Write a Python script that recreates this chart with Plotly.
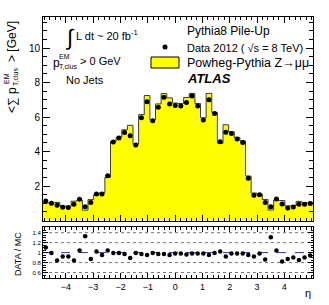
import numpy as np
import plotly.graph_objects as go

# ---------------- data ----------------
eta_min, eta_max = -4.84, 5.05
n_bins = 48

data_vals = [1.13, 1.00, 0.88, 0.77, 0.75, 0.94, 1.23, 0.80, 1.05, 1.53, 1.53, 2.60,
             4.55, 4.78, 5.10, 4.91, 4.38, 5.96, 6.89, 5.78, 6.56, 7.14, 6.75, 6.67,
             6.64, 6.84, 7.22, 6.64, 5.83, 7.00, 6.21, 4.57, 5.11, 5.05, 4.72, 4.53,
             2.45, 1.46, 1.50, 1.05, 0.80, 1.24, 0.95, 0.73, 0.78, 0.94, 0.94, 0.98]

mc_vals = [1.03, 1.01, 1.05, 0.84, 0.82, 1.12, 1.18, 0.60, 1.21, 1.50, 1.61, 2.50,
           4.60, 4.83, 5.26, 5.52, 4.42, 6.14, 7.25, 5.84, 6.76, 7.36, 7.11, 6.81,
           6.78, 7.13, 7.37, 6.78, 5.95, 7.37, 6.27, 4.48, 5.55, 5.15, 4.82, 4.62,
           2.58, 1.59, 1.53, 1.22, 0.61, 1.19, 1.16, 0.84, 0.87, 1.11, 1.04, 1.04]

ratio_vals = [1.10, 0.99, 0.84, 0.92, 0.92, 0.84, 1.04, 1.33, 0.87, 1.02, 0.95, 1.04,
              0.99, 0.99, 0.97, 0.89, 0.99, 0.97, 0.95, 0.99, 0.97, 0.97, 0.95, 0.98,
              0.98, 0.96, 0.98, 0.98, 0.98, 0.95, 0.99, 1.02, 0.92, 0.98, 0.98, 0.98,
              0.95, 0.92, 0.98, 0.86, 1.31, 1.04, 0.82, 0.87, 0.90, 0.85, 0.90, 0.94]

x_tick_vals = [-4, -3, -2, -1, 0, 1, 2, 3, 4]
y_tick_vals = [2, 4, 6, 8, 10]
ratio_tick_vals = [0.6, 0.8, 1.0, 1.2, 1.4]
ratio_tick_text = ["0.6", "0.8", "1", "1.2", "1.4"]
ratio_grid_vals = [0.6, 0.8, 1.2, 1.4]

edges = np.linspace(eta_min, eta_max, n_bins + 1)
centers = 0.5 * (edges[:-1] + edges[1:])

# ---------------- geometry helpers ----------------
W, H = 329, 305
ML, MR, MT, MB = 43, 16, 17, 27
PW, PH = W - ML - MR, H - MT - MB


def xp(px):
    return (px - ML) / PW


def yp(py):
    return (H - MB - py) / PH


FONT = "Liberation Sans, Arial, Helvetica, sans-serif"

fig = go.Figure()

# MC step histogram (filled)
fig.add_trace(go.Scatter(
    x=list(edges), y=mc_vals + [mc_vals[-1]],
    mode="lines", line=dict(shape="hv", color="#3a3a3a", width=1),
    fill="tozeroy", fillcolor="#ffff00",
    xaxis="x", yaxis="y", showlegend=False, hoverinfo="skip"))

# data points
fig.add_trace(go.Scatter(
    x=centers, y=data_vals, mode="markers",
    marker=dict(color="black", size=5),
    xaxis="x", yaxis="y", showlegend=False))

# ratio points
fig.add_trace(go.Scatter(
    x=centers, y=ratio_vals, mode="markers",
    marker=dict(color="black", size=4.5),
    xaxis="x2", yaxis="y2", showlegend=False))

main_bottom = yp(220.5)
ratio_top = yp(226.7)

axis_common = dict(showline=True, linecolor="black", linewidth=1, mirror="ticks",
                   ticks="inside", tickcolor="black", showgrid=False, zeroline=False)

fig.update_layout(
    width=W, height=H,
    margin=dict(l=ML, r=MR, t=MT, b=MB),
    paper_bgcolor="white", plot_bgcolor="white",
    font=dict(family=FONT, color="black"),
    xaxis=dict(domain=[0, 1], range=[eta_min, eta_max], anchor="y",
               tickvals=x_tick_vals, showticklabels=False, ticklen=6,
               minor=dict(dtick=0.2, tick0=0, ticklen=3, ticks="inside", tickcolor="black"),
               **axis_common),
    yaxis=dict(domain=[main_bottom, 1], range=[0, 11.8], anchor="x",
               tickvals=y_tick_vals, ticklen=7, tickfont=dict(size=10),
               minor=dict(dtick=0.5, tick0=0, ticklen=4, ticks="inside", tickcolor="black"),
               **axis_common),
    xaxis2=dict(domain=[0, 1], range=[eta_min, eta_max], anchor="y2",
                tickvals=x_tick_vals, ticklen=5, tickfont=dict(size=9),
                minor=dict(dtick=0.2, tick0=0, ticklen=3, ticks="inside", tickcolor="black"),
                **axis_common),
    yaxis2=dict(domain=[0, ratio_top], range=[0.49, 1.52], anchor="x2",
                tickvals=ratio_tick_vals, ticktext=ratio_tick_text, ticklen=5,
                tickfont=dict(size=6),
                minor=dict(dtick=0.05, tick0=0, ticklen=2.5, ticks="inside", tickcolor="black"),
                **axis_common),
)

shapes = []
for g in ratio_grid_vals:
    shapes.append(dict(type="line", xref="x2 domain", yref="y2", x0=0, x1=1, y0=g, y1=g,
                       line=dict(color="#777777", width=1, dash="dot"), layer="below"))
shapes.append(dict(type="line", xref="x2 domain", yref="y2", x0=0, x1=1, y0=1, y1=1,
                   line=dict(color="#3333aa", width=1, dash="dash"), layer="below"))
# legend marker & box
shapes.append(dict(type="circle", xref="paper", yref="paper",
                   x0=xp(162.5), x1=xp(167.5), y0=yp(49.5), y1=yp(44.5),
                   fillcolor="black", line=dict(color="black", width=0)))
shapes.append(dict(type="rect", xref="paper", yref="paper",
                   x0=xp(151), x1=xp(179), y0=yp(68), y1=yp(57),
                   fillcolor="#ffff00", line=dict(color="black", width=1)))
fig.update_layout(shapes=shapes)

ann = []


def text(px, py, s, size, xanchor="left", angle=0, **kw):
    ann.append(dict(x=xp(px), y=yp(py), xref="paper", yref="paper", text=s,
                    showarrow=False, xanchor=xanchor, yanchor="middle",
                    textangle=angle, font=dict(size=size, family=FONT, color="black"), **kw))


# top-left labels
text(70, 37, "∫", 22, xanchor="center")
text(74, 35, "L dt ~ 20 fb<sup>-1</sup>", 11)
text(51, 63, "p", 12)
text(57, 57, "EM", 7)
text(57, 67, "T,clus", 7)
text(78, 61, "&gt; 0 GeV", 11)
text(64, 80, "No Jets", 11)

# legend texts
text(185, 31, "Pythia8 Pile-Up", 12)
text(185, 48, "Data 2012 ( √s = 8 TeV)", 11)
text(185, 63, "Powheg-Pythia Z→μμ", 12.5)
text(185, 78, "<b><i>ATLAS</i></b>", 13)

# y-axis title (rotated)
text(12, 100, "&lt;∑ p", 12, xanchor="center", angle=-90)
text(6, 79, "EM", 7, xanchor="center", angle=-90)
text(15, 77, "T,clus", 7, xanchor="center", angle=-90)
text(12, 42, "&gt; [GeV]", 12, xanchor="center", angle=-90)

# ratio title and x-axis title
text(18, 254, "DATA / MC", 9, xanchor="center", angle=-90)
text(308, 293, "η", 11, xanchor="center")

fig.update_layout(annotations=ann)

fig.write_html("out.html",
               config={"displayModeBar": False},
               post_script="document.body.style.margin='0';document.body.style.padding='0';")
